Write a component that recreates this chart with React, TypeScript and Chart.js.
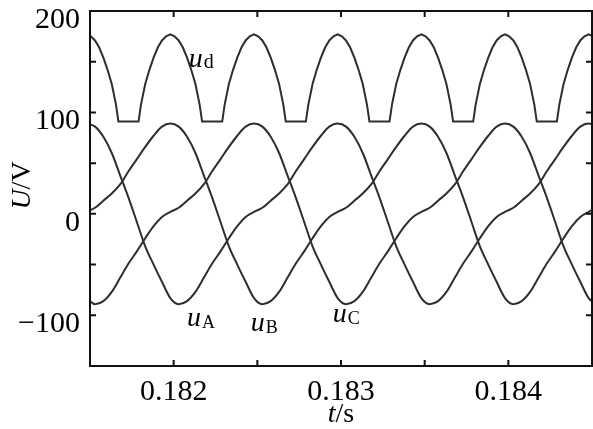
import React, { useEffect, useRef } from 'react';
import { Chart, registerables } from 'chart.js';

Chart.register(...registerables);

// time samples (s) for the three phase voltages
const times = [
  0.18148, 0.18153, 0.18158, 0.18163, 0.18168, 0.18173, 0.18178, 0.18183, 0.18188, 0.18193,
  0.18198, 0.18203, 0.18208, 0.18213, 0.18218, 0.18223, 0.18228, 0.18233, 0.18238, 0.18243,
  0.18248, 0.18253, 0.18258, 0.18263, 0.18268, 0.18273, 0.18278, 0.18283, 0.18288, 0.18293,
  0.18298, 0.18303, 0.18308, 0.18313, 0.18318, 0.18323, 0.18328, 0.18333, 0.18338, 0.18343,
  0.18348, 0.18353, 0.18358, 0.18363, 0.18368, 0.18373, 0.18378, 0.18383, 0.18388, 0.18393,
  0.18398, 0.18403, 0.18408, 0.18413, 0.18418, 0.18423, 0.18428, 0.18433, 0.18438, 0.18443,
  0.18448, 0.18453,
];

const uA = [
  89, 86, 76, 60, 38, 16, -8, -32, -50, -67,
  -83, -89, -86, -77, -63, -49, -37, -24, -12, -3,
  2, 6, 13, 20, 29, 42, 54, 66, 77, 86,
  89, 86, 76, 60, 38, 16, -8, -32, -50, -67,
  -83, -89, -86, -77, -63, -49, -37, -24, -12, -3,
  2, 6, 13, 20, 29, 42, 54, 66, 77, 86,
  89, 86,
];

const uB = [
  2, 6, 13, 20, 29, 42, 54, 66, 77, 86,
  89, 86, 76, 60, 38, 16, -8, -32, -50, -67,
  -83, -89, -86, -77, -63, -49, -37, -24, -12, -3,
  2, 6, 13, 20, 29, 42, 54, 66, 77, 86,
  89, 86, 76, 60, 38, 16, -8, -32, -50, -67,
  -83, -89, -86, -77, -63, -49, -37, -24, -12, -3,
  2, 6,
];

const uC = [
  -83, -89, -86, -77, -63, -49, -37, -24, -12, -3,
  2, 6, 13, 20, 29, 42, 54, 66, 77, 86,
  89, 86, 76, 60, 38, 16, -8, -32, -50, -67,
  -83, -89, -86, -77, -63, -49, -37, -24, -12, -3,
  2, 6, 13, 20, 29, 42, 54, 66, 77, 86,
  89, 86, 76, 60, 38, 16, -8, -32, -50, -67,
  -83, -89,
];

// rectified output voltage ud
const udTimes = [
  0.18148, 0.181505, 0.18153, 0.181555, 0.18158, 0.181605, 0.18163, 0.181655, 0.18167, 0.18179, 0.181805, 0.18183, 0.181855, 0.18188, 0.181905, 0.18193, 0.181955,
  0.18198, 0.182005, 0.18203, 0.182055, 0.18208, 0.182105, 0.18213, 0.182155, 0.18217, 0.18229, 0.182305, 0.18233, 0.182355, 0.18238, 0.182405, 0.18243, 0.182455,
  0.18248, 0.182505, 0.18253, 0.182555, 0.18258, 0.182605, 0.18263, 0.182655, 0.18267, 0.18279, 0.182805, 0.18283, 0.182855, 0.18288, 0.182905, 0.18293, 0.182955,
  0.18298, 0.183005, 0.18303, 0.183055, 0.18308, 0.183105, 0.18313, 0.183155, 0.18317, 0.18329, 0.183305, 0.18333, 0.183355, 0.18338, 0.183405, 0.18343, 0.183455,
  0.18348, 0.183505, 0.18353, 0.183555, 0.18358, 0.183605, 0.18363, 0.183655, 0.18367, 0.18379, 0.183805, 0.18383, 0.183855, 0.18388, 0.183905, 0.18393, 0.183955,
  0.18398, 0.184005, 0.18403, 0.184055, 0.18408, 0.184105, 0.18413, 0.184155, 0.18417, 0.18429, 0.184305, 0.18433, 0.184355, 0.18438, 0.184405, 0.18443, 0.184455,
  0.18448, 0.184505, 0.18453,
];

const ud = [
  177, 175, 171, 164, 154, 142, 128, 108, 91, 91, 108, 128, 142, 154, 164, 171, 175,
  177, 175, 171, 164, 154, 142, 128, 108, 91, 91, 108, 128, 142, 154, 164, 171, 175,
  177, 175, 171, 164, 154, 142, 128, 108, 91, 91, 108, 128, 142, 154, 164, 171, 175,
  177, 175, 171, 164, 154, 142, 128, 108, 91, 91, 108, 128, 142, 154, 164, 171, 175,
  177, 175, 171, 164, 154, 142, 128, 108, 91, 91, 108, 128, 142, 154, 164, 171, 175,
  177, 175, 171, 164, 154, 142, 128, 108, 91, 91, 108, 128, 142, 154, 164, 171, 175,
  177, 175, 171,
];

const xTickLabels = ['0.182', '0.183', '0.184'];
const yTickLabels = ['200', '100', '0', '\u2212100'];

const curveLabels = [
  { main: 'u', sub: 'd', t: 0.18209, v: 145, subSize: 20, subDrop: 1 },
  { main: 'u', sub: 'A', t: 0.18208, v: -111, subSize: 18, subDrop: 2 },
  { main: 'u', sub: 'B', t: 0.18246, v: -115, subSize: 18, subDrop: 2 },
  { main: 'u', sub: 'C', t: 0.18295, v: -107, subSize: 18, subDrop: 2 },
];

const FONT = '"Liberation Serif", "Times New Roman", serif';
const LINE = '#2e2e2e';

const framePlugin = {
  id: 'frame',
  afterDatasetsDraw(chart: any) {
    const { ctx, chartArea: a, scales } = chart;
    const xs = scales.x;
    const ys = scales.y;
    ctx.save();
    ctx.strokeStyle = '#111';
    ctx.lineWidth = 2;
    ctx.strokeRect(a.left, a.top, a.right - a.left, a.bottom - a.top);
    const len = 6;
    ctx.beginPath();
    xs.ticks.forEach((t: any) => {
      const px = xs.getPixelForValue(t.value);
      ctx.moveTo(px, a.bottom);
      ctx.lineTo(px, a.bottom - len);
      ctx.moveTo(px, a.top);
      ctx.lineTo(px, a.top + len);
    });
    ys.ticks.forEach((t: any) => {
      const py = ys.getPixelForValue(t.value);
      ctx.moveTo(a.left, py);
      ctx.lineTo(a.left + len, py);
      ctx.moveTo(a.right, py);
      ctx.lineTo(a.right - len, py);
    });
    ctx.stroke();

    ctx.fillStyle = '#000';
    ctx.textBaseline = 'alphabetic';
    ctx.textAlign = 'left';
    curveLabels.forEach((l) => {
      const x = xs.getPixelForValue(l.t);
      const y = ys.getPixelForValue(l.v);
      ctx.font = `italic 28px ${FONT}`;
      ctx.fillText(l.main, x, y);
      const w = ctx.measureText(l.main).width;
      ctx.font = `${l.subSize}px ${FONT}`;
      ctx.fillText(l.sub, x + w + 1, y + l.subDrop);
    });

    // x title: t/s
    ctx.font = `italic 28px ${FONT}`;
    const wt = ctx.measureText('t').width;
    ctx.font = `28px ${FONT}`;
    const ws = ctx.measureText('/s').width;
    const cx = (a.left + a.right) / 2;
    const bx = cx - (wt + ws) / 2;
    ctx.font = `italic 28px ${FONT}`;
    ctx.fillText('t', bx, 422);
    ctx.font = `28px ${FONT}`;
    ctx.fillText('/s', bx + wt, 422);

    // y title: U/V rotated
    ctx.save();
    ctx.translate(30, (a.top + a.bottom) / 2 - 3);
    ctx.rotate(-Math.PI / 2);
    ctx.font = `italic 28px ${FONT}`;
    const wu = ctx.measureText('U').width;
    ctx.font = `28px ${FONT}`;
    const wv = ctx.measureText('/V').width;
    const sx = -(wu + wv) / 2;
    ctx.font = `italic 28px ${FONT}`;
    ctx.fillText('U', sx, 0);
    ctx.font = `28px ${FONT}`;
    ctx.fillText('/V', sx + wu, 0);
    ctx.restore();

    ctx.restore();
  },
};

export default function App() {
  const ref = useRef<HTMLCanvasElement | null>(null);

  useEffect(() => {
    document.body.style.margin = '0';
    const canvas = ref.current;
    if (!canvas) return;
    const mk = (xsArr: number[], ysArr: number[]) => xsArr.map((x, i) => ({ x, y: ysArr[i] }));
    const base = {
      borderColor: LINE,
      borderWidth: 2,
      pointRadius: 0,
      fill: false,
    };
    const chart = new Chart(canvas, {
      type: 'line',
      data: {
        datasets: [
          { ...base, label: 'ud', data: mk(udTimes, ud), tension: 0 },
          { ...base, label: 'uA', data: mk(times, uA), cubicInterpolationMode: 'monotone' },
          { ...base, label: 'uB', data: mk(times, uB), cubicInterpolationMode: 'monotone' },
          { ...base, label: 'uC', data: mk(times, uC), cubicInterpolationMode: 'monotone' },
        ],
      },
      options: {
        animation: false,
        responsive: false,
        devicePixelRatio: 1,
        layout: { padding: { top: 11, right: 1, left: 0, bottom: 0 } },
        plugins: { legend: { display: false }, tooltip: { enabled: false } },
        scales: {
          x: {
            type: 'linear',
            min: 0.1815,
            max: 0.1845,
            grid: { display: false, drawTicks: false },
            border: { display: false },
            afterFit: (s: any) => {
              s.height = 63;
              s.paddingLeft = 0;
              s.paddingRight = 0;
            },
            ticks: {
              stepSize: 0.0005,
              autoSkip: false,
              maxRotation: 0,
              padding: 8,
              color: '#000',
              font: { family: FONT, size: 30 },
              callback: (v: any) => {
                const s = Number(v).toFixed(3);
                const isMajor = Math.abs(Number(v) * 1000 - Math.round(Number(v) * 1000)) < 1e-6;
                return isMajor && xTickLabels.includes(s) ? s : '';
              },
            },
          },
          y: {
            type: 'linear',
            min: -150,
            max: 200,
            grid: { display: false, drawTicks: false },
            border: { display: false },
            afterFit: (s: any) => {
              s.width = 90;
              s.paddingTop = 0;
              s.paddingBottom = 0;
            },
            ticks: {
              stepSize: 50,
              padding: 10,
              labelOffset: 9,
              color: '#000',
              font: { family: FONT, size: 30 },
              callback: (v: any) => {
                const n = Number(v);
                if (n % 100 !== 0) return '';
                const s = n < 0 ? '\u2212' + Math.abs(n) : String(n);
                return yTickLabels.includes(s) ? s : '';
              },
            },
          },
        },
      },
      plugins: [framePlugin],
    } as any);
    return () => chart.destroy();
  }, []);

  return (
    <div style={{ width: 593, height: 429, background: '#fff' }}>
      <canvas ref={ref} width={593} height={429} style={{ display: 'block' }} />
    </div>
  );
}
